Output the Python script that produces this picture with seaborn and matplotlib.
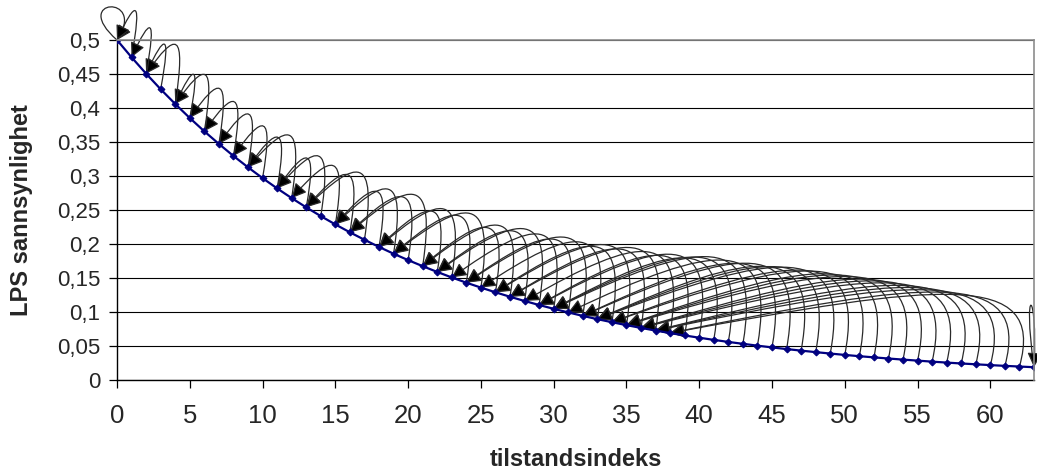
import numpy as np
import matplotlib
matplotlib.use("Agg")
import matplotlib.pyplot as plt
import seaborn as sns
from matplotlib.path import Path
from matplotlib.patches import FancyArrowPatch
from matplotlib.ticker import FuncFormatter, MultipleLocator

# ===============================
# data: LPS probability per state, and next state after an LPS
# ===============================
states = list(range(64))
p_lps = [
    0.5000, 0.4746, 0.4505, 0.4276, 0.4059, 0.3853, 0.3657, 0.3472,
    0.3295, 0.3128, 0.2969, 0.2818, 0.2675, 0.2539, 0.2410, 0.2288,
    0.2172, 0.2062, 0.1957, 0.1857, 0.1763, 0.1674, 0.1589, 0.1508,
    0.1431, 0.1359, 0.1290, 0.1224, 0.1162, 0.1103, 0.1047, 0.0994,
    0.0943, 0.0895, 0.0850, 0.0807, 0.0766, 0.0727, 0.0690, 0.0655,
    0.0622, 0.0590, 0.0560, 0.0532, 0.0505, 0.0479, 0.0455, 0.0432,
    0.0410, 0.0389, 0.0369, 0.0350, 0.0333, 0.0316, 0.0300, 0.0285,
    0.0270, 0.0256, 0.0243, 0.0231, 0.0219, 0.0208, 0.0198, 0.0188,
]
lps_next = [
    0, 0, 1, 2, 2, 4, 4, 5, 6, 7, 8, 9, 9, 11, 11, 12,
    13, 13, 15, 15, 16, 16, 18, 18, 19, 19, 21, 21, 22, 22, 23, 24,
    24, 25, 26, 26, 27, 27, 28, 29, 29, 30, 30, 30, 31, 32, 32, 33,
    33, 33, 34, 34, 35, 35, 35, 36, 36, 36, 37, 37, 37, 38, 38, 63,
]
x_ticks = list(range(0, 61, 5))

# ===============================
# figure
# ===============================
sns.set_style("white")
plt.rcParams["font.family"] = ["Liberation Sans", "DejaVu Sans"]

W, H = 1037, 472
fig = plt.figure(figsize=(W / 100, H / 100), dpi=100)
ax = fig.add_axes([117 / W, 92 / H, 917 / W, 340 / H])

sns.lineplot(x=states, y=p_lps, ax=ax, color="#000080", linewidth=1.6,
             marker="D", markersize=3.5, markeredgecolor="#000080", zorder=4)

ax.set_xlim(0, 63)
ax.set_ylim(0, 0.5)
ax.set_xticks(x_ticks)
ax.yaxis.set_major_locator(MultipleLocator(0.05))
ax.yaxis.set_major_formatter(FuncFormatter(lambda v, _: f"{v:.2f}".rstrip("0").rstrip(".").replace(".", ",")))

ax.grid(axis="y", color="black", linewidth=0.8)
ax.set_axisbelow(True)
for side in ["left", "bottom"]:
    ax.spines[side].set_color("black")
    ax.spines[side].set_linewidth(1.0)
for side in ["top", "right"]:
    ax.spines[side].set_color("#8c8c8c")
    ax.spines[side].set_linewidth(1.2)
    ax.spines[side].set_zorder(5)

ax.tick_params(axis="x", direction="out", length=6, width=0.9, color="black",
               pad=11, labelsize=18.5, bottom=True)
ax.tick_params(axis="y", direction="out", length=6, width=0.9, color="black",
               pad=6, labelsize=16, left=True)

ax.set_xlabel("tilstandsindeks", fontsize=17, fontweight="bold")
ax.set_ylabel("LPS sannsynlighet", fontsize=17, fontweight="bold")
ax.xaxis.set_label_coords(0.5, -0.235)
ax.xaxis.label.set_va("center")
ax.yaxis.set_label_coords(-0.104, 0.5)
ax.yaxis.label.set_va("center")

# ===============================
# LPS transition arrows (bezier curves, built in pixel space)
# ===============================
to_px = ax.transData.transform
to_data = ax.transData.inverted().transform

for i, j in zip(states, lps_next):
    sx, sy = to_px((i, p_lps[i]))
    tx, ty = to_px((j, p_lps[j]))
    if i == j:
        if i == 0:
            c1 = (sx - 48, sy + 42)
            c2 = (sx + 30, sy + 46)
        else:
            c1 = (sx - 12, sy + 85)
            c2 = (sx + 4, sy + 80)
    else:
        L = sx - tx
        extra = 26 * np.sin(np.pi * np.clip((L - 25) / 330, 0, 1))
        c1 = (sx + 10 + 0.05 * L, ty + 42 + 0.06 * L + extra)
        c2 = (tx + 0.74 * L + 8, ty + 40 + 0.023 * L + extra)
    verts = to_data([(sx, sy), c1, c2, (tx, ty)])
    path = Path(verts, [Path.MOVETO, Path.CURVE4, Path.CURVE4, Path.CURVE4])
    arr = FancyArrowPatch(path=path, arrowstyle="-|>,head_length=0.55,head_width=0.28",
                          mutation_scale=16, edgecolor="#2a2a2a", facecolor="black",
                          linewidth=0.9, zorder=3, clip_on=False)
    ax.add_patch(arr)

plt.savefig("out.png", dpi=100)
plt.close()
